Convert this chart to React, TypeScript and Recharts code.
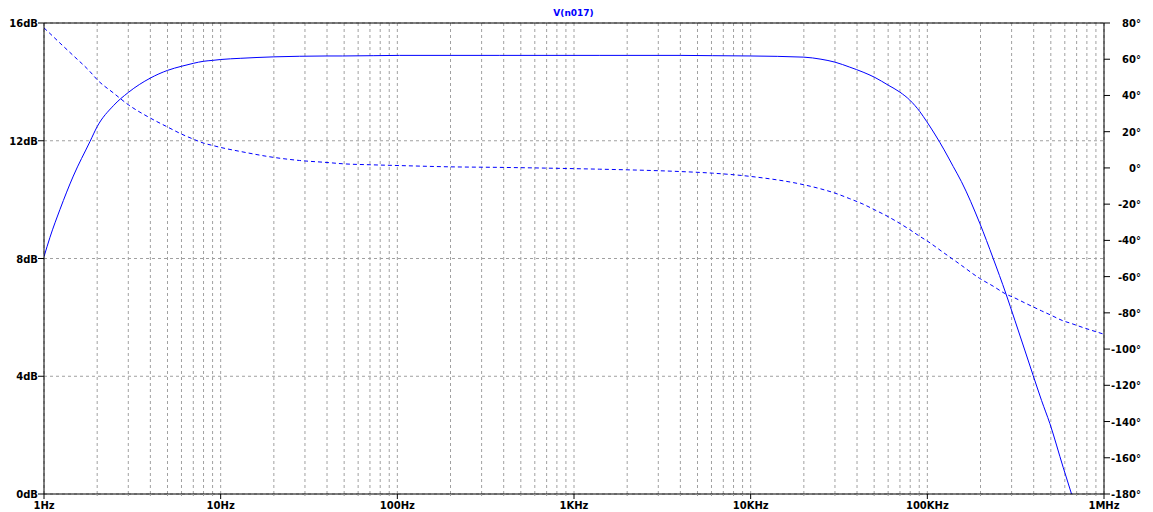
import React from 'react';
import { ComposedChart, Line, XAxis, YAxis, CartesianGrid, ReferenceLine } from 'recharts';

const freqs = [1, 1.081, 1.232, 1.465, 1.82, 2, 2.47, 3, 4, 5, 6, 7, 8, 9, 10, 12.9, 20, 28, 40, 49, 73, 103, 199, 380, 1000, 1400, 2000, 4000, 6100, 10000, 20000, 25000, 30000, 36400, 43300, 50500, 60000, 70000, 79600, 90700, 99000, 124500, 140000, 156000, 198000, 236000, 278000, 313000, 356000, 397000, 443000, 494000, 587000, 655000, 700000, 1000000];
const magnitudeDb = [8.06, 8.72, 9.67, 10.8, 11.97, 12.48, 13.19, 13.64, 14.13, 14.39, 14.53, 14.63, 14.7, 14.73, 14.76, 14.8, 14.85, 14.87, 14.88, 14.88, 14.89, 14.9, 14.9, 14.9, 14.9, 14.9, 14.9, 14.9, 14.89, 14.88, 14.84, 14.77, 14.67, 14.5, 14.33, 14.15, 13.89, 13.65, 13.38, 12.99, 12.66, 11.69, 11.13, 10.61, 9.2, 8.0, 6.82, 5.9, 4.89, 4.03, 3.18, 2.39, 0.91, 0, -0.55, null];
const phaseDeg = [77.3, 74.2, 68.9, 62.0, 53.2, 48.7, 41.4, 34.9, 27.5, 22.6, 18.7, 15.9, 13.7, 12.4, 11.3, 9.1, 5.8, 4.1, 3.0, 2.3, 1.7, 1.3, 0.6, 0.3, -0.4, -0.7, -1.05, -2.0, -2.9, -4.7, -9.3, -11.6, -13.9, -17.0, -20.0, -23.2, -26.9, -30.7, -34.1, -37.8, -40.1, -47, -50.5, -53.8, -61, -65.3, -69.6, -71.8, -74.5, -76.7, -78.9, -81.0, -84.4, -85.9, -86.9, -91.8];

const decades = [1, 10, 100, 1000, 10000, 100000, 1000000];
const decadeLabels = ['1Hz', '10Hz', '100Hz', '1KHz', '10KHz', '100KHz', '1MHz'];
const multipliers = [1, 2, 3, 4, 5, 6, 7, 8, 9];
const dbTicks = [0, 4, 8, 12, 16];
const degTicks = [-180, -160, -140, -120, -100, -80, -60, -40, -20, 0, 20, 40, 60, 80];

const xTicks: number[] = [];
decades.slice(0, -1).forEach((d) => multipliers.forEach((m) => xTicks.push(d * m)));
xTicks.push(decades[decades.length - 1]);

const data = freqs.map((f, i) => ({ f, mag: magnitudeDb[i], phase: phaseDeg[i] }));

const FONT = '"DejaVu Sans", Verdana, sans-serif';

const XTick = (props: any) => {
  const { x, y, payload } = props;
  const idx = decades.findIndex((d) => Math.abs(d - payload.value) < 1e-6 * d);
  if (idx < 0) {
    return <line x1={x} x2={x} y1={y} y2={y + 2} stroke="#999" />;
  }
  return (
    <g>
      <line x1={x} x2={x} y1={y} y2={y + 5} stroke="#000" />
      <text x={x} y={y + 15} textAnchor="middle" fontFamily={FONT} fontWeight="bold" fontSize={10} fill="#000">
        {decadeLabels[idx]}
      </text>
    </g>
  );
};

const LeftTick = (props: any) => {
  const { x, y, payload } = props;
  return (
    <g>
      <line x1={x - 6} x2={x} y1={y} y2={y} stroke="#000" />
      <text x={x - 6} y={y + 4} textAnchor="end" fontFamily={FONT} fontWeight="bold" fontSize={10} fill="#000">
        {`${payload.value}dB`}
      </text>
    </g>
  );
};

const RightTick = (props: any) => {
  const { x, y, payload } = props;
  return (
    <g>
      <line x1={x} x2={x + 6} y1={y} y2={y} stroke="#000" />
      <text x={x + 37} y={y + 4} textAnchor="end" fontFamily={FONT} fontWeight="bold" fontSize={10} fill="#000">
        {`${payload.value}°`}
      </text>
    </g>
  );
};

export default function App() {
  return (
    <div style={{ position: 'absolute', left: 0, top: 0, width: 1153, height: 512, background: '#fff' }}>
      <div
        style={{
          position: 'absolute',
          left: 0,
          width: 1147,
          top: 7,
          textAlign: 'center',
          fontFamily: FONT,
          fontWeight: 'bold',
          fontSize: 9,
          color: '#0000ff',
          lineHeight: '12px',
        }}
      >
        V(n017)
      </div>
      <ComposedChart width={1153} height={512} data={data} margin={{ top: 23, right: 0, bottom: 0, left: 0 }}>
        <CartesianGrid yAxisId="left" stroke="#a0a0a0" strokeDasharray="3 3" />
        <XAxis
          dataKey="f"
          type="number"
          scale="log"
          domain={[1, 1000000]}
          ticks={xTicks}
          interval={0}
          height={18}
          tickSize={0}
          tickMargin={0}
          tickLine={false}
          axisLine={{ stroke: '#000' }}
          tick={<XTick />}
          allowDataOverflow
        />
        <YAxis
          yAxisId="left"
          orientation="left"
          width={44}
          domain={[0, 16]}
          ticks={dbTicks}
          interval={0}
          tickSize={0}
          tickMargin={0}
          tickLine={false}
          axisLine={{ stroke: '#000' }}
          tick={<LeftTick />}
          allowDataOverflow
        />
        <YAxis
          yAxisId="right"
          orientation="right"
          width={49}
          domain={[-180, 80]}
          ticks={degTicks}
          interval={0}
          tickSize={0}
          tickMargin={0}
          tickLine={false}
          axisLine={{ stroke: '#000' }}
          tick={<RightTick />}
          allowDataOverflow
        />
        <ReferenceLine yAxisId="left" y={16} stroke="#000" />
        <Line
          yAxisId="left"
          dataKey="mag"
          type="monotone"
          stroke="#0000ff"
          strokeWidth={1}
          dot={false}
          activeDot={false}
          isAnimationActive={false}
        />
        <Line
          yAxisId="right"
          dataKey="phase"
          type="monotone"
          stroke="#0000ff"
          strokeWidth={1}
          strokeDasharray="4 3"
          dot={false}
          activeDot={false}
          isAnimationActive={false}
        />
      </ComposedChart>
    </div>
  );
}
